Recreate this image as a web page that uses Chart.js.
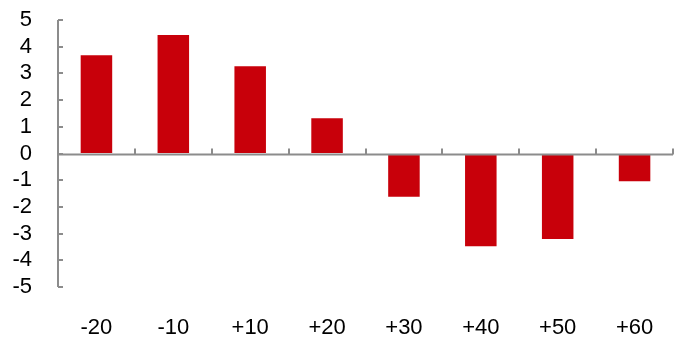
<!DOCTYPE html>
<html>
<head>
<meta charset="utf-8">
<script src="https://cdn.jsdelivr.net/npm/chart.js@4/dist/chart.umd.min.js"></script>
<style>
html,body{margin:0;padding:0;background:#fff;}
#wrap{width:678px;height:348px;}
</style>
</head>
<body>
<div id="wrap"><canvas id="c" width="678" height="348"></canvas></div>
<script>
const categories = ['-20', '-10', '+10', '+20', '+30', '+40', '+50', '+60'];
const values = [3.68, 4.44, 3.27, 1.32, -1.62, -3.47, -3.2, -1.04];
const yTicks = [-5, -4, -3, -2, -1, 0, 1, 2, 3, 4, 5];

const axisColor = '#8c8c8c';

const axesPlugin = {
  id: 'customAxes',
  afterDatasetsDraw(chart) {
    const ctx = chart.ctx;
    const x = chart.scales.x, y = chart.scales.y;
    const area = chart.chartArea;
    const y0 = Math.round(y.getPixelForValue(0)) + 0.5;
    ctx.save();
    ctx.strokeStyle = axisColor;
    ctx.lineWidth = 2;
    const yl = Math.round(area.left);
    ctx.beginPath();
    ctx.moveTo(yl, y.getPixelForValue(yTicks[yTicks.length - 1]));
    ctx.lineTo(yl, y.getPixelForValue(yTicks[0]));
    ctx.stroke();
    yTicks.forEach(v => {
      const py = Math.round(y.getPixelForValue(v));
      ctx.beginPath();
      ctx.moveTo(yl, py);
      ctx.lineTo(yl + 5, py);
      ctx.stroke();
    });
    ctx.beginPath();
    ctx.moveTo(yl, y0);
    ctx.lineTo(Math.round(area.right), y0);
    ctx.stroke();
    const half = (x.getPixelForValue(1) - x.getPixelForValue(0)) / 2;
    for (let i = 0; i < categories.length; i++) {
      const px = Math.round(x.getPixelForValue(i) + half);
      ctx.beginPath();
      ctx.moveTo(px, y0);
      ctx.lineTo(px, y0 - 6);
      ctx.stroke();
    }
    ctx.restore();
  }
};

new Chart(document.getElementById('c'), {
  type: 'bar',
  data: {
    labels: categories,
    datasets: [{
      data: values,
      backgroundColor: '#c8000a',
      borderWidth: 0,
      barPercentage: 0.41,
      categoryPercentage: 1.0
    }]
  },
  options: {
    responsive: false,
    animation: false,
    devicePixelRatio: 1,
    layout: { padding: { left: 0, right: 5, top: 20, bottom: 0 } },
    plugins: { legend: { display: false }, tooltip: { enabled: false } },
    scales: {
      x: {
        afterFit(scale) { scale.height = 61; },
        grid: { display: true, drawOnChartArea: false, drawTicks: true, tickLength: 28, color: 'rgba(0,0,0,0)' },
        border: { display: false },
        ticks: { color: '#000', font: { family: 'Liberation Sans, Arial', size: 22 }, padding: 0, maxRotation: 0, autoSkip: false }
      },
      y: {
        min: -5, max: 5,
        afterFit(scale) { scale.width = 58; },
        grid: { display: true, drawOnChartArea: false, drawTicks: true, tickLength: 26, color: 'rgba(0,0,0,0)' },
        border: { display: false },
        ticks: { stepSize: 1, autoSkip: false, color: '#000', font: { family: 'Liberation Sans, Arial', size: 22 }, padding: 0 }
      }
    }
  },
  plugins: [axesPlugin]
});
</script>
</body>
</html>
